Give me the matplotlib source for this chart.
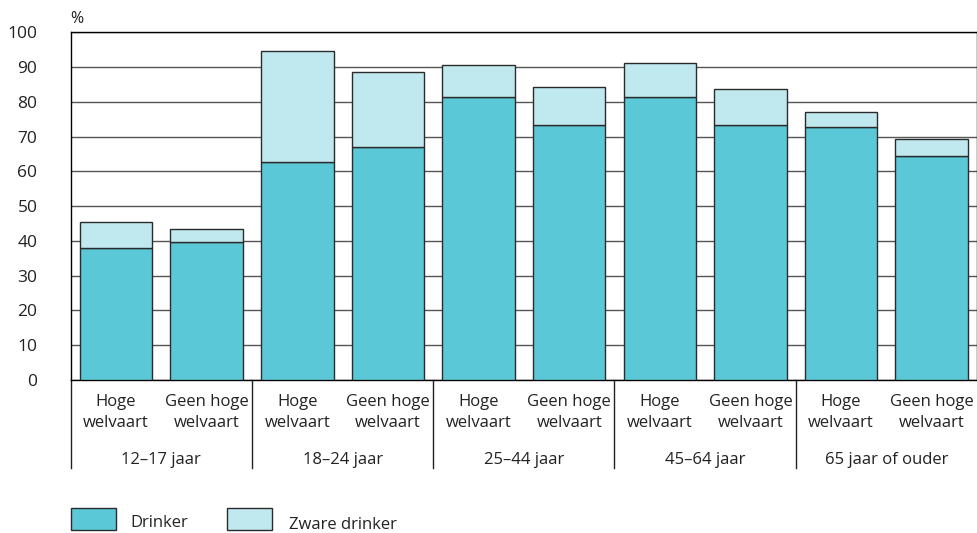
import matplotlib.pyplot as plt
from matplotlib.patches import Rectangle
import numpy as np

plt.rcParams['font.family'] = ['Open Sans', 'DejaVu Sans']

groups = ["12–17 jaar", "18–24 jaar", "25–44 jaar", "45–64 jaar", "65 jaar of ouder"]
sub_labels = ["Hoge\nwelvaart", "Geen hoge\nwelvaart"]
drinker = [37.9, 39.6, 62.8, 66.9, 81.5, 73.2, 81.5, 73.2, 72.8, 64.3]
totaal = [45.4, 43.5, 94.6, 88.5, 90.6, 84.2, 91.3, 83.8, 77.2, 69.3]
zwaar = [t - d for t, d in zip(totaal, drinker)]

DARK = "#5bc8d8"
LIGHT = "#bfe9ef"
EDGE = "#2b2b2b"
TXT = "#222222"

fig = plt.figure(figsize=(9.78, 5.33), dpi=100)
ax = fig.add_axes([0.0723, 0.287, 0.9267, 0.6524])

x = np.arange(len(drinker))
ax.bar(x, drinker, width=0.8, color=DARK, edgecolor=EDGE, linewidth=1.0, zorder=3)
ax.bar(x, zwaar, bottom=drinker, width=0.8, color=LIGHT, edgecolor=EDGE, linewidth=1.0, zorder=3)

ax.set_xlim(-0.5, len(drinker) - 0.5)
ax.set_ylim(0, 100)
ax.set_yticks(range(0, 101, 10))
ax.yaxis.grid(True, color="#555555", linewidth=1.0, zorder=0)
ax.set_axisbelow(True)
for s in ax.spines.values():
    s.set_color("black")
    s.set_linewidth(1.0)

ax.tick_params(axis="y", length=0, pad=24, labelsize=12.5, colors=TXT)
for lab in ax.get_yticklabels():
    lab.set_horizontalalignment("right")
ax.set_xticks(x)
ax.set_xticklabels(sub_labels * len(groups), fontsize=12, color=TXT, linespacing=1.45)
ax.tick_params(axis="x", length=0, pad=10)

ax.text(0.0, 1.015, "%", transform=ax.transAxes, fontsize=11.5, color=TXT, ha="left", va="bottom")

# group separators and labels under the axis
trans = ax.get_xaxis_transform()
for i in range(len(groups)):
    ax.plot([2 * i - 0.5, 2 * i - 0.5], [0, -0.253], transform=trans, color=TXT,
            linewidth=1.0, clip_on=False)
    ax.text(2 * i + 0.5, -0.23, groups[i], transform=trans, ha="center", va="center",
            fontsize=12, color=TXT)

# legend
fig.patches.append(Rectangle((70.7 / 978, 3 / 533), 45 / 978, 22 / 533, transform=fig.transFigure,
                             facecolor=DARK, edgecolor=EDGE, linewidth=1.0))
fig.text(130 / 978, 10 / 533, "Drinker", fontsize=12, color=TXT, va="center")
fig.patches.append(Rectangle((227 / 978, 3 / 533), 45 / 978, 22 / 533, transform=fig.transFigure,
                             facecolor=LIGHT, edgecolor=EDGE, linewidth=1.0))
fig.text(289 / 978, 8 / 533, "Zware drinker", fontsize=12, color=TXT, va="center")

fig.savefig("out.png", dpi=100)
